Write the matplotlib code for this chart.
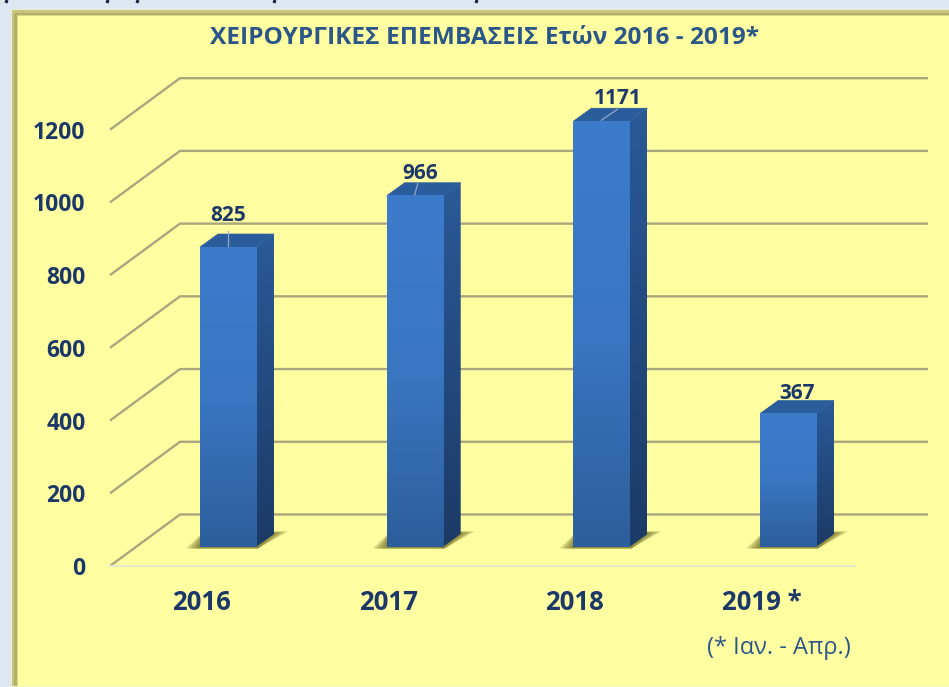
import numpy as np
import matplotlib
matplotlib.use("Agg")
import matplotlib.pyplot as plt
from matplotlib.patches import Polygon, Rectangle
from matplotlib.colors import LinearSegmentedColormap

years = ["2016", "2017", "2018", "2019 *"]
values = [825, 966, 1171, 367]
yticks = [0, 200, 400, 600, 800, 1000, 1200]
title = "ΧΕΙΡΟΥΡΓΙΚΕΣ ΕΠΕΜΒΑΣΕΙΣ Ετών 2016 - 2019*"
note = "(* Ιαν. - Απρ.)"

W, H = 949, 687
PX_X, PX_Y = 186.7, 0.3636      # pixels per category, pixels per unit
X0, Y0 = 228.0, 547.0           # pixel position of first bar centre / bar base
FONT = ["Open Sans", "DejaVu Sans"]
NAVY = "#1c3868"
TITLE_BLUE = "#2a5688"
YELLOW = "#ffffa1"

# manual placement of the value labels (pixels from bar centre / bar top)
label_dx = [0, 5, 16, 9]
label_dy = [32, 22, 23, 20]
leader_tip = [(0, 16), (3, 12), (16, 12), None]

fig = plt.figure(figsize=(W / 100, H / 100), dpi=100, facecolor="#dce7f1")
ax = fig.add_axes([0, 0, 1, 1])
ax.axis("off")

def dx(p): return p / PX_X
def dy(p): return p / PX_Y
def X(px): return (px - X0) / PX_X
def Y(py): return (Y0 - py) / PX_Y

# panel and frame
def panel(x, y, fc, z):
    ax.add_patch(Rectangle((X(x), Y(H + 5)), X(W + 5) - X(x), Y(y) - Y(H + 5), fc=fc, ec="none", zorder=z))
panel(10.5, 8.5, "#eeeec4", 0)
panel(12, 10.5, "#c8c584", 0.1)
panel(14.5, 12.5, "#b3b06a", 0.2)
panel(17, 14.5, "#d9d78c", 0.3)
panel(18.5, 16, YELLOW, 0.4)
ax.add_patch(Rectangle((X(10.5), Y(H + 5)), X(W + 5) - X(10.5), dy(6.5), fc="#f4f4c0", ec="none", zorder=0.5))

# cut-off line of text along the top edge
for px in [7, 108, 138, 275, 477]:
    ax.plot([X(px), X(px - 1)], [Y(0), Y(3)], color="#141c3c", lw=2.2, solid_capstyle="butt", zorder=0.6)

# walls and gridlines
front_left = 110
back_left = 180
back_right = 928
floor_right = 855
floor_y = Y(566)              # front floor edge
depth_y = dy(51.5)            # front-to-back rise in data units
for t in yticks:
    fy = floor_y + t
    by = fy + depth_y
    ax.plot([X(front_left), X(back_left), X(back_right)], [fy, by, by],
            color="#a8a67c", lw=1.7, solid_capstyle="butt", zorder=1)
ax.plot([X(front_left), X(floor_right)], [floor_y, floor_y], color="#e6e9c8", lw=1.5, zorder=1)

# bars
BW = 0.30
OX, OY = dx(18), dy(13)
front_cmap = LinearSegmentedColormap.from_list("f", ["#3c7ccb", "#3a76c2", "#2d5e9c"])
side_cmap = LinearSegmentedColormap.from_list("s", ["#2a5a98", "#1c3a66"])
grad = np.linspace(0, 1, 256).reshape(-1, 1)
for i, v in enumerate(values):
    l, r = i - BW / 2, i + BW / 2
    # soft floor shadow, stacked translucent shapes
    for g, h in [(14, 13), (11, 12), (8, 11), (5, 10), (2, 9)]:
        ax.add_patch(Polygon([(l - dx(g), -dy(1.5)), (r + dx(2), -dy(1.5)),
                              (r + OX + dx(g), OY + dy(1 + g * 0.12)), (l + OX, OY + dy(1 + g * 0.12)),
                              (l + dx(1), dy(h))],
                             closed=True, fc="#6e6a20", ec="none", alpha=0.24, zorder=2))
    # side face
    side = Polygon([(r, 0), (r + OX, OY), (r + OX, v + OY), (r, v)], closed=True, transform=ax.transData)
    im = ax.imshow(grad, cmap=side_cmap, aspect="auto", origin="upper",
                   extent=(r, r + OX, 0, v + OY), zorder=3)
    im.set_clip_path(side)
    # top face
    ax.add_patch(Polygon([(l, v), (l + OX, v + OY), (r + OX, v + OY), (r, v)], closed=True,
                         fc="#2b5c9c", ec="#2b5c9c", lw=0.5, zorder=3.2))
    # front face
    ax.imshow(grad, cmap=front_cmap, aspect="auto", origin="upper",
              extent=(l, r, 0, v), zorder=3.4)
    # leader line to the value label
    if leader_tip[i] is not None:
        tx, ty = leader_tip[i]
        ax.plot([i, i + dx(tx)], [v + dy(1), v + dy(ty)], color="#8fa9c6", lw=0.9, zorder=3.6)
    ax.text(i + dx(label_dx[i]), v + dy(label_dy[i]), f"{v}", ha="center", va="center", fontsize=15,
            fontweight="bold", color=NAVY, family=FONT, zorder=5)
    ax.text(i - dx(26.5), Y(602), years[i], ha="center", va="center", fontsize=18.5,
            fontweight="bold", color=NAVY, family=FONT, zorder=5)

ax.set_xlim(-X0 / PX_X, (W - X0) / PX_X)
ax.set_ylim((Y0 - H) / PX_Y, Y0 / PX_Y)

# y tick labels
for t in yticks:
    ax.text(X(85.5), floor_y + t - dy(3), f"{t}", ha="right", va="center", fontsize=16.5, fontweight="bold",
            color=NAVY, family=FONT, zorder=5)

ax.text(X(485), Y(38), title, ha="center", va="center", fontsize=17.6, fontweight="bold",
        color=TITLE_BLUE, family=FONT, zorder=5)
ax.text(X(779), Y(648), note, ha="center", va="center", fontsize=17, color=TITLE_BLUE, family=FONT, zorder=5)

fig.savefig("out.png", dpi=100, facecolor=fig.get_facecolor())
